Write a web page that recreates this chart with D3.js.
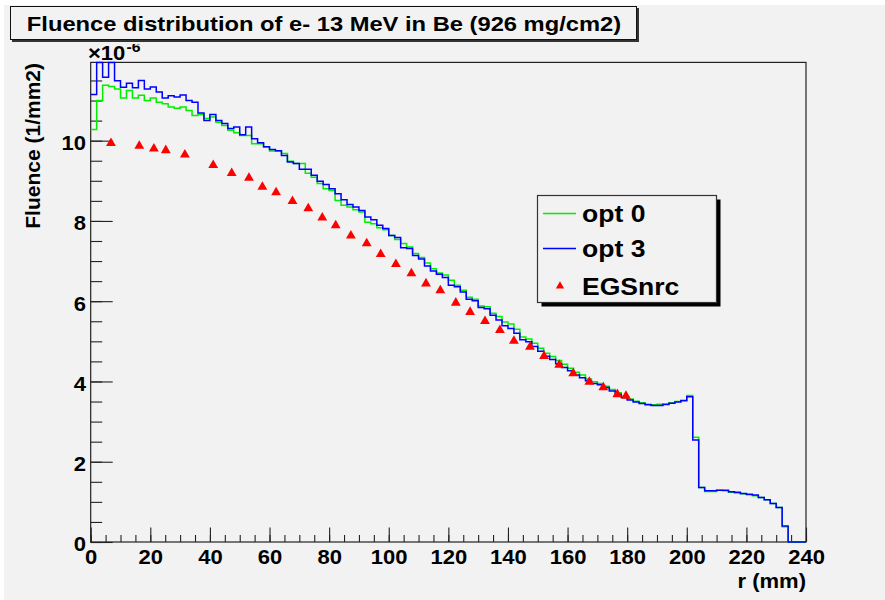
<!DOCTYPE html>
<html>
<head>
<meta charset="utf-8">
<script src="https://cdn.jsdelivr.net/npm/d3@7"></script>
<style>
  html, body { margin: 0; padding: 0; background: #ffffff; }
  svg { display: block; }
  text { font-family: "Liberation Sans", Arial, Helvetica, sans-serif; font-weight: bold; fill: #000; }
</style>
</head>
<body>
<script>
// ---------------- data ----------------
const titleText = "Fluence distribution of e- 13 MeV in Be (926 mg/cm2)";
const xTitle = "r (mm)";
const yTitle = "Fluence (1/mm2)";
const binWidth = 2; // mm
const rEdges = d3.range(0, 240, binWidth);

// opt 0 (green) histogram, units of 1e-6 /mm2, one value per 2 mm bin
const opt0 = [
  10.28, 11.00, 11.38, 11.35, 11.29, 11.06, 11.25, 11.06, 11.13, 11.00,
  11.06, 10.96, 10.92, 10.84, 10.81, 10.84, 10.75, 10.63, 10.65, 10.55,
  10.59, 10.46, 10.38, 10.26, 10.20, 10.13, 10.13, 9.92, 9.92, 9.84,
  9.74, 9.74, 9.68, 9.49, 9.43, 9.43, 9.19, 9.09, 8.93, 8.80,
  8.76, 8.51, 8.39, 8.35, 8.28, 8.22, 7.97, 7.93, 7.83, 7.78,
  7.64, 7.54, 7.44, 7.35, 7.19, 7.09, 6.95, 6.81, 6.70, 6.65,
  6.52, 6.40, 6.27, 6.10, 6.05, 5.88, 5.86, 5.70, 5.62, 5.48,
  5.43, 5.30, 5.11, 5.06, 4.95, 4.83, 4.70, 4.62, 4.52, 4.43,
  4.33, 4.23, 4.16, 4.06, 3.99, 3.95, 3.88, 3.80, 3.72, 3.63,
  3.56, 3.51, 3.47, 3.43, 3.42, 3.43, 3.42, 3.47, 3.50, 3.53,
  3.65, 2.61, 1.36, 1.26, 1.26, 1.29, 1.28, 1.24, 1.22, 1.20,
  1.18, 1.15, 1.11, 1.05, 0.96, 0.86, 0.38, 0, 0, 0
];

// opt 3 (blue) histogram
const opt3 = [
  11.15, 12.30, 11.58, 12.30, 11.49, 11.33, 11.43, 11.32, 11.50, 11.29,
  11.34, 11.21, 11.06, 11.12, 11.09, 11.14, 11.00, 10.96, 10.69, 10.50,
  10.65, 10.50, 10.43, 10.30, 10.34, 10.15, 10.34, 10.05, 9.95, 9.85,
  9.78, 9.75, 9.63, 9.47, 9.43, 9.29, 9.29, 9.14, 8.99, 8.91,
  8.80, 8.68, 8.53, 8.41, 8.35, 8.26, 8.10, 8.03, 7.89, 7.81,
  7.64, 7.59, 7.33, 7.31, 7.14, 7.05, 6.88, 6.75, 6.67, 6.59,
  6.40, 6.36, 6.23, 6.05, 6.01, 5.84, 5.81, 5.65, 5.53, 5.39,
  5.32, 5.20, 5.04, 4.99, 4.87, 4.75, 4.63, 4.55, 4.44, 4.35,
  4.27, 4.16, 4.09, 4.02, 3.95, 3.92, 3.85, 3.76, 3.68, 3.60,
  3.54, 3.49, 3.45, 3.42, 3.40, 3.40, 3.43, 3.46, 3.49, 3.52,
  3.62, 2.54, 1.36, 1.28, 1.28, 1.29, 1.29, 1.25, 1.24, 1.21,
  1.19, 1.17, 1.11, 1.05, 0.96, 0.86, 0.40, 0, 0, 0
];

// EGSnrc reference points
const egsR = [6.8, 16.3, 21.2, 25.2, 31.6, 41.1, 47.3, 53.1, 57.6, 62.2,
  67.7, 73.0, 77.7, 82.2, 87.3, 92.6, 97.3, 102.4, 107.6, 112.5,
  117.3, 122.5, 127.3, 132.3, 137.3, 142.0, 147.4, 152.1, 157.2, 161.9,
  167.3, 172.0, 176.7, 179.6];
const egsV = [9.94, 9.87, 9.80, 9.76, 9.65, 9.39, 9.19, 9.07, 8.85, 8.71,
  8.49, 8.31, 8.08, 7.89, 7.63, 7.44, 7.17, 6.92, 6.69, 6.44,
  6.27, 5.96, 5.73, 5.50, 5.28, 5.01, 4.86, 4.63, 4.41, 4.20,
  3.99, 3.85, 3.68, 3.64];

const xMajorTicks = [0, 20, 40, 60, 80, 100, 120, 140, 160, 180, 200, 220, 240];
const xMinorTicks = d3.range(0, 241, 5);
const yMajorTicks = [0, 2, 4, 6, 8, 10];
const yMinorTicks = d3.range(0, 11.95, 0.5);
const xDomain = [0, 240];
const yDomain = [0, 11.95];
const exponentBase = "\u00d710";
const exponentPow = "-6";

const legendItems = [
  {label: "opt 0", type: "line", color: "#00ee00"},
  {label: "opt 3", type: "line", color: "#0000ff"},
  {label: "EGSnrc", type: "marker", color: "#ff0000"}
];

// ---------------- layout ----------------
const W = 885, H = 600;
const SX = 1.13; // horizontal stretch of the original picture
const plot = {left: 90.7, right: 806, top: 62.4, bottom: 542};
const BG = "#f2f2f2";

const svg = d3.select("body").append("svg").attr("width", W).attr("height", H);
svg.append("rect").attr("width", W).attr("height", H).attr("fill", "#ffffff");
svg.append("rect").attr("x", 4).attr("y", 5).attr("width", W - 4).attr("height", H - 5).attr("fill", BG);

const x = d3.scaleLinear().domain(xDomain).range([plot.left, plot.right]);
const y = d3.scaleLinear().domain(yDomain).range([plot.bottom, plot.top]).clamp(true);

function stext(parent, px, py, str, size, anchor) {
  return parent.append("text")
    .attr("transform", `translate(${px},${py}) scale(${SX},1)`)
    .attr("text-anchor", anchor || "start")
    .style("font-size", size + "px")
    .text(str);
}

// title box
svg.append("rect").attr("x", 12).attr("y", 8).attr("width", 627).attr("height", 34).attr("fill", "#333");
svg.append("rect").attr("x", 10.5).attr("y", 6.5).attr("width", 626).attr("height", 33)
  .attr("fill", BG).attr("stroke", "#111").attr("stroke-width", 1);
stext(svg, 324, 30.5, titleText, 21, "middle");

// frame
svg.append("rect").attr("x", plot.left).attr("y", plot.top)
  .attr("width", plot.right - plot.left).attr("height", plot.bottom - plot.top)
  .attr("fill", BG);

// axes
const tickColor = "#222";
const gxMinor = svg.append("g").attr("transform", `translate(0,${plot.bottom})`)
  .call(d3.axisBottom(x).tickValues(xMinorTicks).tickSize(-7).tickFormat(""));
const gx = svg.append("g").attr("transform", `translate(0,${plot.bottom})`)
  .call(d3.axisBottom(x).tickValues(xMajorTicks).tickSize(-14.5).tickPadding(8).tickFormat(d3.format("d")));
const gyMinor = svg.append("g").attr("transform", `translate(${plot.left},0)`)
  .call(d3.axisLeft(y).tickValues(yMinorTicks).tickSize(-11.5).tickFormat(""));
const gy = svg.append("g").attr("transform", `translate(${plot.left},0)`)
  .call(d3.axisLeft(y).tickValues(yMajorTicks).tickSize(-22).tickPadding(5).tickFormat(d3.format("d")));

[gxMinor, gx, gyMinor, gy].forEach(g => {
  g.select(".domain").remove();
  g.selectAll(".tick line").attr("stroke", tickColor).attr("stroke-width", 1.1);
  g.selectAll("text").attr("font-family", null).attr("font-size", null);
});
gx.selectAll(".tick text").style("font-size", "19.5px").attr("fill", "#000")
  .attr("transform", `scale(${SX},1)`);
gy.selectAll(".tick text").style("font-size", "19.5px").attr("fill", "#000")
  .attr("x", -4.7 / SX).attr("dy", "0.46em")
  .attr("transform", `scale(${SX},1)`);

svg.append("rect").attr("x", plot.left).attr("y", plot.top)
  .attr("width", plot.right - plot.left).attr("height", plot.bottom - plot.top)
  .attr("fill", "none").attr("stroke", "#222").attr("stroke-width", 1.2);

// exponent label
stext(svg, 88, 60, exponentBase, 19.5, "start");
svg.append("clipPath").attr("id", "expclip").append("rect").attr("x", 0).attr("y", 44).attr("width", 200).attr("height", 20);
svg.append("g").attr("clip-path", "url(#expclip)")
  .call(g => stext(g, 126.5, 51.5, exponentPow, 14, "start"));

// axis titles
stext(svg, plot.right, 588, xTitle, 19.5, "end");
svg.append("text")
  .attr("transform", `translate(40,63) rotate(-90)`)
  .attr("text-anchor", "end")
  .style("font-size", "21px")
  .text(yTitle);

// histograms
function stepPoints(vals) {
  const pts = rEdges.map((r, i) => [r, vals[i]]);
  pts.push([xDomain[1], vals[vals.length - 1]]);
  return pts;
}
const line = d3.line().x(d => x(d[0])).y(d => y(d[1])).curve(d3.curveStepAfter);
svg.append("path").attr("d", line(stepPoints(opt0)))
  .attr("fill", "none").attr("stroke", "#00ee00").attr("stroke-width", 1.5);
svg.append("path").attr("d", line(stepPoints(opt3)))
  .attr("fill", "none").attr("stroke", "#0000ff").attr("stroke-width", 1.5);

// EGSnrc markers
const tri = d3.symbol().type(d3.symbolTriangle).size(42);
svg.append("g").selectAll("path").data(egsR.map((r, i) => [r, egsV[i]])).join("path")
  .attr("d", tri)
  .attr("transform", d => `translate(${x(d[0])},${y(d[1])})`)
  .attr("fill", "#ff0000");

// legend
const lg = {x: 537.5, y: 195.5, w: 179, h: 107};
svg.append("rect").attr("x", lg.x + 4).attr("y", lg.y + 4).attr("width", lg.w).attr("height", lg.h).attr("fill", "#000");
svg.append("rect").attr("x", lg.x).attr("y", lg.y).attr("width", lg.w).attr("height", lg.h)
  .attr("fill", BG).attr("stroke", "#333").attr("stroke-width", 1.2);
const rowY = [213.5, 248.5, 287];
const baseY = [221.5, 256.5, 295];
legendItems.forEach((it, i) => {
  if (it.type === "line") {
    svg.append("line").attr("x1", 543).attr("x2", 576).attr("y1", rowY[i]).attr("y2", rowY[i])
      .attr("stroke", it.color).attr("stroke-width", 1.3);
  } else {
    svg.append("path").attr("d", d3.symbol().type(d3.symbolTriangle).size(30)())
      .attr("transform", `translate(560,${rowY[i] - 1})`).attr("fill", it.color);
  }
  stext(svg, 582, baseY[i], it.label, 23.5, "start");
});
</script>
</body>
</html>
